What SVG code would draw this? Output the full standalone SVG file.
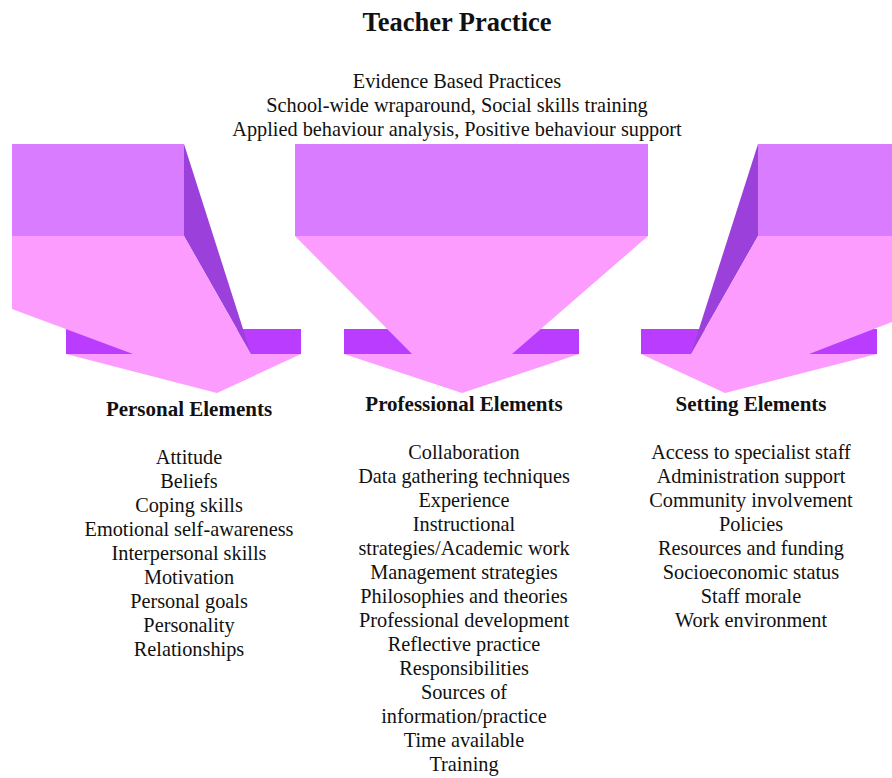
<svg xmlns="http://www.w3.org/2000/svg" width="892" height="778" viewBox="0 0 892 778">
<style>
.t{font-family:"Liberation Serif","Times New Roman",serif;font-size:20.3px;fill:#111;text-anchor:middle}
.h{font-family:"Liberation Serif","Times New Roman",serif;font-size:21px;font-weight:bold;fill:#111;text-anchor:middle}
.top{fill:#DA7CFF}
.body{fill:#FC9CFF}
.bar{fill:#BA3DFF}
.side{fill:#9B40DB}
</style>
<rect width="892" height="778" fill="#fff"/>
<g id="title">
<text x="457" y="31" class="h" style="font-size:26.5px">Teacher Practice</text>
</g>
<g id="evidence">
<text x="457" y="88" class="t">Evidence Based Practices</text>
<text x="457" y="112" class="t">School-wide wraparound, Social skills training</text>
<text x="457" y="136" class="t">Applied behaviour analysis, Positive behaviour support</text>
</g>
<g id="connectors">
<g id="arrow-left">
<rect class="bar" x="66" y="329" width="235" height="25"/>
<rect class="top" x="12" y="144" width="172" height="92"/>
<polygon class="side" points="184,144 251,354 184,236"/>
<polygon class="body" points="12,236 184,236 251,354 301,354 217,393 66,354 133,354 12,309"/>
</g>
<g id="arrow-middle">
<rect class="bar" x="344" y="329" width="235" height="25"/>
<rect class="top" x="295" y="144" width="353" height="92"/>
<polygon class="body" points="295,236 648,236 512,354 579,354 462,393 344,354 412,354"/>
</g>
<g id="arrow-right">
<rect class="bar" x="641" y="329" width="236" height="25"/>
<rect class="top" x="758" y="144" width="134" height="92"/>
<polygon class="side" points="758,144 691,354 758,236"/>
<polygon class="body" points="758,236 892,236 892,322 809,354 877,354 725,393 641,354 691,354"/>
</g>
</g>
<g id="personal">
<text x="189" y="416" class="h">Personal Elements</text>
<text x="189" y="464" class="t">Attitude</text>
<text x="189" y="488" class="t">Beliefs</text>
<text x="189" y="512" class="t">Coping skills</text>
<text x="189" y="536" class="t">Emotional self-awareness</text>
<text x="189" y="560" class="t">Interpersonal skills</text>
<text x="189" y="584" class="t">Motivation</text>
<text x="189" y="608" class="t">Personal goals</text>
<text x="189" y="632" class="t">Personality</text>
<text x="189" y="656" class="t">Relationships</text>
</g>
<g id="professional">
<text x="464" y="411" class="h">Professional Elements</text>
<text x="464" y="459" class="t">Collaboration</text>
<text x="464" y="483" class="t">Data gathering techniques</text>
<text x="464" y="507" class="t">Experience</text>
<text x="464" y="531" class="t">Instructional</text>
<text x="464" y="555" class="t">strategies/Academic work</text>
<text x="464" y="579" class="t">Management strategies</text>
<text x="464" y="603" class="t">Philosophies and theories</text>
<text x="464" y="627" class="t">Professional development</text>
<text x="464" y="651" class="t">Reflective practice</text>
<text x="464" y="675" class="t">Responsibilities</text>
<text x="464" y="699" class="t">Sources of</text>
<text x="464" y="723" class="t">information/practice</text>
<text x="464" y="747" class="t">Time available</text>
<text x="464" y="771" class="t">Training</text>
</g>
<g id="setting">
<text x="751" y="411" class="h">Setting Elements</text>
<text x="751" y="459" class="t">Access to specialist staff</text>
<text x="751" y="483" class="t">Administration support</text>
<text x="751" y="507" class="t">Community involvement</text>
<text x="751" y="531" class="t">Policies</text>
<text x="751" y="555" class="t">Resources and funding</text>
<text x="751" y="579" class="t">Socioeconomic status</text>
<text x="751" y="603" class="t">Staff morale</text>
<text x="751" y="627" class="t">Work environment</text>
</g>
</svg>
